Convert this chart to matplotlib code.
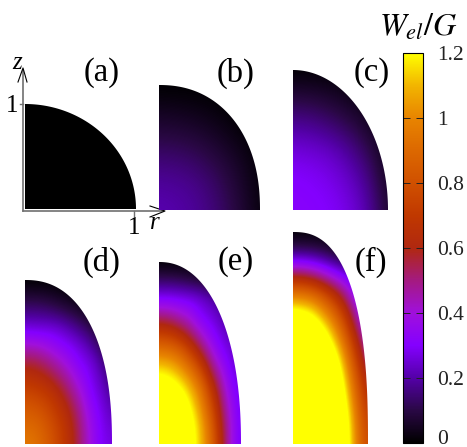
import numpy as np
import matplotlib
matplotlib.use('Agg')
import matplotlib.pyplot as plt
from matplotlib.colors import LinearSegmentedColormap
from matplotlib.patches import Polygon
from matplotlib.transforms import ScaledTranslation

plt.rcParams['font.family'] = ['Liberation Serif', 'DejaVu Serif']
plt.rcParams['mathtext.fontset'] = 'stix'

# W_el/G. Rows go from z=0 up to z=1, columns from r=0 to r=1,
# both evenly spaced and normalised to the size of the drop
field_a = np.zeros((2, 2))
field_b = [[.21, .20, .18, .14, .085, .02],
           [.19, .185, .165, .125, .07, .015],
           [.15, .145, .125, .09, .05, .01],
           [.095, .09, .075, .05, .02, 0],
           [.045, .04, .03, .015, 0, 0],
           [0, 0, 0, 0, 0, 0]]
field_c = [[.31, .31, .30, .27, .20, .07],
           [.31, .30, .28, .24, .17, .05],
           [.27, .26, .24, .19, .12, .03],
           [.19, .18, .15, .11, .06, .01],
           [.09, .085, .065, .04, .01, 0],
           [0, 0, 0, 0, 0, 0]]
field_d = [[.96, .93, .86, .76, .66, .53, .39, .29, .27],
           [.91, .90, .83, .75, .65, .52, .38, .29, .25],
           [.85, .83, .78, .70, .61, .49, .35, .28, .22],
           [.77, .75, .71, .64, .54, .43, .31, .26, .18],
           [.67, .65, .61, .54, .46, .36, .29, .23, .14],
           [.56, .55, .50, .44, .37, .30, .27, .19, .10],
           [.42, .41, .38, .33, .30, .26, .20, .12, .05],
           [.28, .27, .27, .26, .22, .17, .12, .06, .02],
           [.17, .17, .16, .14, .11, .08, .04, .01, 0],
           [.08, .08, .07, .05, .03, .01, 0, 0, 0],
           [0, 0, 0, 0, 0, 0, 0, 0, 0]]
field_e = [[1.60, 1.52, 1.45, 1.30, 1.13, .93, .65, .40, .27],
           [1.55, 1.50, 1.42, 1.28, 1.12, .90, .62, .40, .27],
           [1.47, 1.43, 1.36, 1.22, 1.05, .82, .57, .37, .27],
           [1.33, 1.30, 1.24, 1.12, .97, .72, .50, .33, .27],
           [1.19, 1.16, 1.08, .97, .80, .57, .42, .28, .26],
           [.98, .96, .90, .76, .60, .44, .31, .27, .22],
           [.74, .72, .65, .55, .43, .33, .27, .23, .17],
           [.51, .49, .44, .39, .30, .27, .23, .15, .08],
           [.30, .30, .29, .28, .26, .22, .16, .10, .05],
           [.13, .13, .12, .10, .08, .05, .02, 0, 0],
           [0, 0, 0, 0, 0, 0, 0, 0, 0]]
field_f = [[2.20, 2.15, 2.05, 1.90, 1.70, 1.45, 1.22, .92, .78],
           [2.15, 2.10, 2.00, 1.88, 1.68, 1.43, 1.20, .90, .75],
           [2.05, 2.00, 1.95, 1.80, 1.60, 1.38, 1.12, .85, .68],
           [1.90, 1.88, 1.82, 1.70, 1.52, 1.30, 1.03, .78, .60],
           [1.75, 1.72, 1.65, 1.53, 1.38, 1.18, .92, .68, .48],
           [1.55, 1.52, 1.47, 1.35, 1.20, 1.00, .78, .56, .40],
           [1.33, 1.30, 1.25, 1.13, .99, .82, .62, .42, .30],
           [1.00, .98, .94, .85, .73, .60, .45, .32, .20],
           [.55, .54, .50, .44, .37, .31, .26, .14, .05],
           [.15, .15, .14, .12, .09, .05, .02, 0, 0],
           [0, 0, 0, 0, 0, 0, 0, 0, 0]]

panel_names = ['(a)', '(b)', '(c)', '(d)', '(e)', '(f)']
panel_fields = [field_a, field_b, field_c, field_d, field_e, field_f]
# left, right, top, bottom of each drop in pixels, and outline exponent
panel_boxes = [(25, 136, 104, 209), (159, 260, 85, 210), (293, 388, 70, 210),
               (25, 112, 280, 444), (159, 241, 262, 444), (293, 368, 232, 444)]
panel_exps = [2.0, 2.2, 2.0, 2.3, 2.2, 2.5]
label_pos = [(102, 73), (236, 73), (372, 73), (102, 262), (236, 262), (371, 262)]

cbar_ticks = [0, .2, .4, .6, .8, 1, 1.2]
cbar_labels = ['0', '0.2', '0.4', '0.6', '0.8', '1', '1.2']
cmap_levels = [0, .1, .2, .3, .4, .5, .6, .7, .8, .9, 1, 1.1, 1.2]
cmap_colors = ['#000000', '#2a0845', '#5400a8', '#8400ff', '#a010dc', '#a41a80',
               '#b02810', '#c03800', '#d05000', '#dc6800', '#e88400', '#f2b400', '#ffff00']

W, H = 467, 447
cmap = LinearSegmentedColormap.from_list(
    'wel', [(v / 1.2, c) for v, c in zip(cmap_levels, cmap_colors)], N=512)

fig = plt.figure(figsize=(W / 100, H / 100), dpi=100)
bg = fig.add_axes([0, 0, 1, 1])
bg.set_xlim(0, W)
bg.set_ylim(H, 0)
bg.axis('off')


def px_axes(left, right, top, bottom):
    return fig.add_axes([left / W, 1 - bottom / H, (right - left) / W, (bottom - top) / H])


im = None
for field, box, n in zip(panel_fields, panel_boxes, panel_exps):
    values = np.array(field)
    ax = px_axes(*box)
    # half a cell either side so the cell centres sit on the evenly spaced nodes
    dr = 0.5 / (values.shape[1] - 1)
    dz = 0.5 / (values.shape[0] - 1)
    im = ax.imshow(values, origin='lower', extent=(-dr, 1 + dr, -dz, 1 + dz), aspect='auto',
                   cmap=cmap, vmin=0, vmax=1.2, interpolation='bicubic')
    ax.set_xlim(0, 1)
    ax.set_ylim(0, 1)
    ax.axis('off')
    th = np.linspace(0, np.pi / 2, 200)
    outline = np.column_stack([np.cos(th) ** (2 / n), np.sin(th) ** (2 / n)])
    outline = np.vstack([[0, 0], outline])
    clip = Polygon(outline, closed=True, transform=ax.transData, fc='none', ec='none')
    ax.add_patch(clip)
    im.set_clip_path(clip)

for name, (x, y) in zip(panel_names, label_pos):
    bg.text(x, y, name, fontsize=23.5, ha='center', va='center')

# axes of panel (a)
grey = '#707070'
bg.plot([23, 23], [211, 70], color=grey, lw=1.2)
bg.plot([23, 163], [211, 211], color=grey, lw=1.2)
bg.plot([18, 23, 27], [82, 68, 82], color='black', lw=0.8)
bg.plot([150, 165, 150], [206, 211, 217], color='black', lw=0.8)
bg.plot([20, 23], [103.5, 103.5], color=grey, lw=1)
bg.plot([134, 134], [211, 216], color=grey, lw=1)
bg.text(12, 106, '1', fontsize=18, ha='center', va='center')
bg.text(134, 228, '1', fontsize=18, ha='center', va='center')
bg.text(17, 63, 'z', fontsize=18, style='italic', ha='center', va='center')
bg.text(155, 223, 'r', fontsize=18, style='italic', ha='center', va='center')

# colour bar
cax = px_axes(403, 423, 53, 443)
cb = fig.colorbar(im, cax=cax)
cb.set_ticks(cbar_ticks, labels=cbar_labels)
cax.tick_params(axis='y', direction='in', length=5, width=0.7, left=True, right=True,
                labelsize=15.5, pad=10, colors='#222222')
cb.outline.set_linewidth(0.8)
# the 0 label sits a little above its tick so it stays inside the picture
zero = cax.get_yticklabels()[0]
zero.set_transform(zero.get_transform() + ScaledTranslation(0, 6 / 100, fig.dpi_scale_trans))
bg.text(418, 28, r'$W_{el}/G$', fontsize=23, ha='center', va='center')

fig.savefig('out.png', dpi=100)
